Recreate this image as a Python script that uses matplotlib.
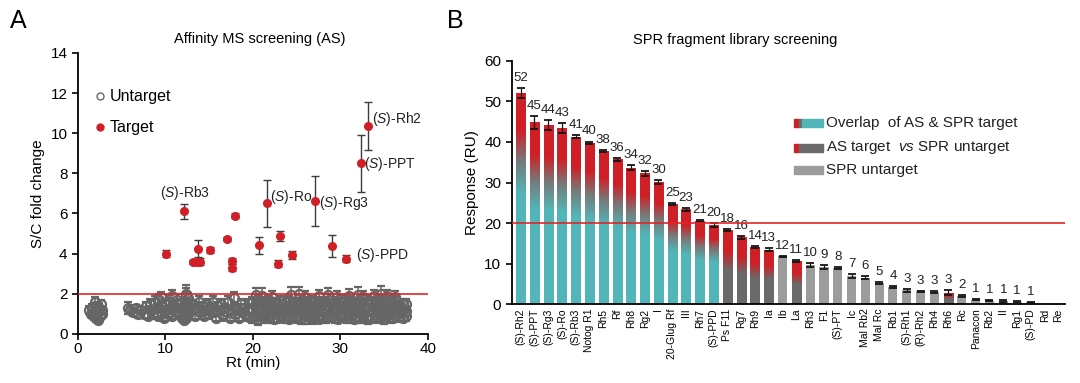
import matplotlib
matplotlib.use('Agg')
import matplotlib.pyplot as plt
import numpy as np
from matplotlib.colors import LinearSegmentedColormap
from matplotlib.patches import Rectangle
from matplotlib.lines import Line2D

plt.rcParams['font.family'] = ['Liberation Sans', 'DejaVu Sans']
plt.rcParams['mathtext.fontset'] = 'custom'
plt.rcParams['mathtext.rm'] = 'Liberation Sans'
plt.rcParams['mathtext.it'] = 'Liberation Sans:italic'

# ---- panel A: affinity MS screening ----
# untargeted compounds (sparse part, Rt < 19.5 min)
untarget_rt = [1.3, 1.5, 1.6, 1.8, 1.9, 2.0, 2.1, 2.2, 2.3, 2.4, 2.5, 2.6, 2.7, 2.8,
               5.7, 6.0, 6.3, 6.6, 6.9,
               7.2, 7.5, 7.8, 8.0, 8.2, 8.4, 8.6, 8.8, 9.0, 9.1, 9.3, 9.5, 9.6, 9.8,
               10.0, 10.2, 10.3, 10.5, 10.7, 10.8, 11.0, 11.2, 11.3, 11.5, 11.6, 11.8, 11.9,
               12.1, 12.1, 12.2, 12.2, 12.3, 12.4, 12.4, 12.5, 12.6, 12.6, 12.7,
               13.0, 13.2, 13.4, 13.6, 13.8, 14.0, 14.2, 14.4, 14.6, 14.8, 15.0, 15.2,
               15.4, 15.6, 15.8, 16.0, 16.2, 16.4, 16.6, 16.8, 17.0, 17.2, 17.4, 17.6,
               17.8, 18.0, 18.2, 18.4, 18.6, 18.8, 19.0, 19.2, 19.4]
untarget_fc = [1.2, 1.0, 1.3, 0.9, 1.4, 1.6, 0.8, 1.1, 0.7, 1.3, 0.9, 1.5, 1.0, 1.2,
               1.3, 1.2, 1.1, 1.3, 1.0,
               1.2, 1.0, 1.4, 0.9, 1.5, 1.2, 1.0, 1.6, 1.3, 0.9, 1.7, 1.1, 1.4, 0.8,
               1.5, 1.2, 1.0, 1.6, 1.3, 0.9, 1.4, 1.1, 1.7, 1.0, 1.3, 1.5, 0.8,
               0.7, 1.0, 1.3, 1.6, 1.9, 0.8, 1.2, 1.5, 1.8, 1.0, 1.3,
               1.2, 1.5, 0.9, 1.3, 1.6, 1.1, 1.4, 0.9, 1.2, 1.5, 1.0, 1.3,
               1.6, 1.1, 0.8, 1.4, 1.2, 1.5, 0.9, 1.3, 1.1, 1.6, 0.8, 1.2,
               1.4, 1.0, 1.3, 0.8, 1.5, 1.1, 1.3, 0.9, 1.2]
untarget_err = [0.2, 0.15, 0.2, 0.2, 0.15, 0.25, 0.2, 0.2, 0.15, 0.25, 0.2, 0.2, 0.2, 0.15,
                0.3, 0.15, 0.2, 0.15, 0.2,
                0.15, 0.2, 0.2, 0.15, 0.25, 0.2, 0.15, 0.3, 0.2, 0.15, 0.3, 0.2, 0.2, 0.15,
                0.25, 0.2, 0.15, 0.35, 0.2, 0.15, 0.25, 0.2, 0.3, 0.15, 0.2, 0.25, 0.15,
                0.15, 0.2, 0.2, 0.2, 0.4, 0.15, 0.2, 0.2, 0.25, 0.2, 0.2,
                0.2, 0.2, 0.15, 0.2, 0.3, 0.2, 0.2, 0.15, 0.2, 0.25, 0.2, 0.2,
                0.3, 0.2, 0.15, 0.2, 0.2, 0.25, 0.15, 0.2, 0.2, 0.3, 0.15, 0.2,
                0.2, 0.2, 0.2, 0.15, 0.25, 0.2, 0.2, 0.15, 0.2]

# untargeted compounds, dense part (Rt 19.5 - 38 min), three layers per Rt
dense_rt = [19.6, 19.9, 20.3, 20.6, 21.0, 21.3, 21.7, 22.0, 22.4, 22.7,
            23.1, 23.4, 23.8, 24.1, 24.5, 24.8, 25.2, 25.5, 25.9, 26.2,
            26.6, 26.9, 27.3, 27.6, 28.0, 28.3, 28.7, 29.0, 29.4, 29.7,
            30.1, 30.4, 30.8, 31.1, 31.5, 31.8, 32.2, 32.5, 32.9, 33.2,
            33.6, 33.9, 34.3, 34.6, 35.0, 35.3, 35.7, 36.0, 36.4, 36.7,
            37.1, 37.5]
dense_fc_low = [0.85, 0.8, 0.9, 0.75, 0.85, 0.8, 0.9, 0.85, 0.75, 0.8,
                0.9, 0.8, 0.85, 0.75, 0.9, 0.8, 0.85, 0.8, 0.75, 0.9,
                0.85, 0.8, 0.9, 0.75, 0.85, 0.8, 0.9, 0.85, 0.8, 0.75,
                0.9, 0.85, 0.8, 0.9, 0.75, 0.85, 0.8, 0.9, 0.85, 0.75,
                0.8, 0.9, 0.85, 0.8, 0.75, 0.9, 0.85, 0.8, 0.9, 0.85,
                0.8, 0.9]
dense_fc_mid = [1.2, 1.25, 1.15, 1.3, 1.2, 1.1, 1.25, 1.2, 1.3, 1.15,
                1.2, 1.25, 1.1, 1.2, 1.3, 1.15, 1.25, 1.2, 1.1, 1.3,
                1.2, 1.15, 1.25, 1.3, 1.1, 1.2, 1.25, 1.15, 1.3, 1.2,
                1.1, 1.25, 1.2, 1.3, 1.15, 1.2, 1.25, 1.1, 1.3, 1.2,
                1.15, 1.25, 1.2, 1.3, 1.1, 1.2, 1.25, 1.15, 1.3, 1.2,
                1.2, 1.15]
dense_fc_high = [1.55, 1.6, 1.5, 1.65, 1.55, 1.6, 1.7, 1.5, 1.6, 1.55,
                 1.65, 1.5, 1.6, 1.7, 1.55, 1.6, 1.5, 1.65, 1.6, 1.55,
                 1.7, 1.6, 1.5, 1.65, 1.55, 1.6, 1.7, 1.55, 1.6, 1.5,
                 1.65, 1.6, 1.55, 1.7, 1.6, 1.5, 1.65, 1.55, 1.6, 1.7,
                 1.55, 1.6, 1.65, 1.5, 1.6, 1.7, 1.55, 1.6, 1.65, 1.5,
                 1.55, 1.5]
dense_err = [0.2, 0.25, 0.2, 0.3, 0.2, 0.25, 0.2, 0.3, 0.2, 0.25,
             0.25, 0.2, 0.3, 0.2, 0.25, 0.2, 0.2, 0.3, 0.25, 0.2,
             0.2, 0.3, 0.25, 0.2, 0.2, 0.25, 0.3, 0.2, 0.25, 0.2,
             0.3, 0.2, 0.25, 0.2, 0.2, 0.3, 0.25, 0.2, 0.2, 0.25,
             0.2, 0.25, 0.3, 0.2, 0.25, 0.2, 0.3, 0.2, 0.25, 0.2,
             0.2, 0.25]
# untargeted compounds sitting just under the cut-off line
edge_rt = [9.5, 10.8, 12.3, 17.8, 20.3, 21.0, 22.2, 24.3, 25.3, 26.0,
           27.5, 28.6, 29.6, 31.0, 32.0, 32.6, 33.8, 34.6, 35.3, 36.2]
edge_fc = [1.85, 1.9, 2.0, 1.8, 1.95, 1.9, 1.85, 1.95, 2.0, 1.85,
           1.9, 1.95, 1.85, 1.9, 1.95, 1.85, 1.9, 2.0, 1.9, 1.85]
edge_err = [0.25, 0.3, 0.45, 0.3, 0.35, 0.4, 0.3, 0.4, 0.35, 0.3,
            0.3, 0.35, 0.3, 0.35, 0.4, 0.3, 0.3, 0.4, 0.3, 0.3]

# targeted compounds
target_rt = [10.1, 12.15, 13.2, 13.55, 13.75, 13.95, 15.1, 17.0, 17.6, 17.6, 17.9,
             20.7, 21.6, 23.1, 22.9, 24.5, 27.1, 29.0, 30.6, 32.3, 33.2]
target_fc = [4.0, 6.1, 3.58, 3.58, 4.25, 3.6, 4.2, 4.73, 3.65, 3.3, 5.9,
             4.42, 6.5, 4.87, 3.5, 3.93, 6.62, 4.37, 3.75, 8.5, 10.35]
target_err = [0.18, 0.38, 0.1, 0.1, 0.43, 0.18, 0.15, 0.12, 0.15, 0.18, 0.1,
              0.43, 1.17, 0.25, 0.18, 0.2, 1.25, 0.55, 0.18, 1.42, 1.2]
target_names = ['(S)-Rb3', '(S)-Ro', '(S)-Rg3', '(S)-PPD', '(S)-PPT', '(S)-Rh2']
target_name_rt = [12.2, 22.0, 27.6, 31.8, 32.7, 33.6]
target_name_fc = [7.0, 6.8, 6.5, 3.95, 8.47, 10.72]

# ---- panel B: SPR fragment library screening ----
compounds = ['(S)-Rh2', '(S)-PPT', '(S)-Rg3', '(S)-Ro', '(S)-Rb3', 'Notog R1', 'Rh5', 'Rf',
             'Rh8', 'Rg2', 'I', '20-Glug Rf', 'III', 'Rh7', '(S)-PPD', 'Ps F11', 'Rg7',
             'Rh9', 'Ia', 'Ib', 'La', 'Rh3', 'F1', '(S)-PT', 'Ic', 'Mal Rb2', 'Mal Rc',
             'Rb1', '(S)-Rh1', '(R)-Rh2', 'Rh4', 'Rh6', 'Rc', 'Panacon', 'Rb2', 'II',
             'Rg1', '(S)-PD', 'Rd', 'Re']
response = [52.0, 44.8, 44.2, 43.5, 41.3, 39.8, 37.8, 35.7, 33.6, 32.3,
            30.2, 24.7, 23.4, 20.6, 19.6, 18.3, 16.5, 14.2, 13.5, 11.8,
            10.7, 9.6, 9.2, 8.9, 6.9, 6.6, 5.3, 4.3, 3.5, 3.2,
            3.1, 2.9, 2.0, 1.2, 0.9, 0.9, 0.6, 0.5, 0.0, 0.0]
response_err = [1.2, 1.5, 1.3, 1.2, 0.4, 0.3, 0.3, 0.3, 0.6, 0.6,
                0.5, 0.3, 0.3, 0.2, 0.5, 0.3, 0.3, 0.2, 0.3, 0.2,
                0.3, 0.5, 0.4, 0.2, 0.5, 0.3, 0.2, 0.3, 0.4, 0.2,
                0.3, 0.6, 0.2, 0.2, 0.1, 0.2, 0.2, 0.2, 0.0, 0.0]
response_text = ['52', '45', '44', '43', '41', '40', '38', '36', '34', '32',
                 '30', '25', '23', '21', '20', '18', '16', '14', '13', '12',
                 '11', '10', '9', '8', '7', '6', '5', '4', '3', '3',
                 '3', '3', '2', '1', '1', '1', '1', '1', '', '']
# 'both' = overlap of AS & SPR target, 'as' = AS target only, 'none' = SPR untarget
group = ['both'] * 15 + ['as', 'as', 'as', 'as', 'none', 'as'] + ['none'] * 10 + ['as'] + ['none'] * 8

teal = '#52b6b8'
red = '#d01f26'
dgray = '#6a6a6a'
lgray = '#9c9c9c'
cgray = '#666666'

fig = plt.figure(figsize=(10.8, 3.83), dpi=100)

# ===== panel A =====
axA = fig.add_axes([0.0722, 0.128, 0.324, 0.734])
cloud = dict(fmt='o', ms=6.5, mfc='none', mec=cgray, mew=1.6, ecolor=cgray,
             elinewidth=1.1, capsize=2.8, capthick=1.0, zorder=2)
axA.errorbar(untarget_rt, untarget_fc, yerr=untarget_err, **cloud)
axA.errorbar(edge_rt, edge_fc, yerr=edge_err, **cloud)
for row in (dense_fc_low, dense_fc_mid, dense_fc_high):
    axA.errorbar(dense_rt, row, yerr=dense_err, **cloud)
axA.axhline(2, color='#e02525', lw=1.2, zorder=3)
axA.errorbar(target_rt, target_fc, yerr=target_err, fmt='o', ms=5.5, mfc=red, mec=red,
             ecolor='#3c3c3c', elinewidth=1.0, capsize=3, capthick=1.0, zorder=4)
for name, xx, yy in zip(target_names, target_name_rt, target_name_fc):
    lab = r'($\it{S}$)' + name[3:]
    ha = 'center' if name == '(S)-Rb3' else 'left'
    axA.text(xx, yy, lab, ha=ha, va='center', fontsize=10, color='#222222')

axA.set_xlim(0, 40)
axA.set_ylim(0, 14)
axA.set_xticks(range(0, 41, 10))
axA.set_yticks(range(0, 15, 2))
axA.spines['top'].set_visible(False)
axA.spines['right'].set_visible(False)
for s in ('left', 'bottom'):
    axA.spines[s].set_linewidth(1.3)
axA.tick_params(direction='out', length=4, width=1.2, labelsize=11)
axA.tick_params(axis='x', pad=2)
axA.set_xlabel('Rt (min)', fontsize=11, labelpad=0)
axA.set_ylabel('S/C fold change', fontsize=11, labelpad=4)

hA = [Line2D([], [], ls='', marker='o', ms=5, mfc='white', mec=cgray, mew=1),
      Line2D([], [], ls='', marker='o', ms=5, mfc=red, mec=red)]
axA.legend(hA, ['Untarget', 'Target'], loc='upper left', bbox_to_anchor=(0.05, 0.87),
           frameon=False, fontsize=11.5, handlelength=0.6, handletextpad=0.3,
           labelspacing=1.0, borderpad=0, borderaxespad=0)

# ===== panel B =====
axB = fig.add_axes([0.4738, 0.2052, 0.5120, 0.6363])
x = np.arange(len(compounds))
w = 0.66
cmap_both = LinearSegmentedColormap.from_list(
    'both', [(0, teal), (0.52, teal), (0.68, '#787878'), (0.82, red), (1, red)])
cmap_as = LinearSegmentedColormap.from_list(
    'as', [(0, dgray), (0.45, dgray), (0.7, red), (1, red)])
grad = np.linspace(0, 1, 256).reshape(-1, 1)

colors = [lgray if g == 'none' else 'none' for g in group]
bars = axB.bar(x, response, width=w, color=colors, edgecolor='none', zorder=2)
for b, g in zip(bars, group):
    if g == 'none' or b.get_height() <= 0:
        continue
    cm = cmap_both if g == 'both' else cmap_as
    im = axB.imshow(grad, cmap=cm, origin='lower', aspect='auto', zorder=2,
                    extent=(b.get_x(), b.get_x() + b.get_width(), 0, b.get_height()))
    im.set_clip_path(b)

has = np.array(response) > 0
axB.errorbar(x[has], np.array(response)[has], yerr=np.array(response_err)[has], fmt='none',
             ecolor='#151515', elinewidth=0.9, capsize=3.2, capthick=1.3, zorder=3)
for xi, h, e, t in zip(x, response, response_err, response_text):
    if t:
        axB.text(xi, h + e + 1.0, t, ha='center', va='bottom', fontsize=9.5, color='#222222')

axB.axhline(20, color='#e02525', lw=1.2, zorder=4)
axB.set_xlim(-0.64, 39.45)
axB.set_ylim(0, 60)
axB.set_yticks(range(0, 61, 10))
axB.set_xticks(x)
axB.set_xticklabels(compounds, rotation=90, fontsize=7.5)
axB.tick_params(axis='x', length=0, pad=3)
axB.tick_params(axis='y', direction='out', length=4, width=1.2, labelsize=11)
axB.spines['top'].set_visible(False)
axB.spines['right'].set_visible(False)
for s in ('left', 'bottom'):
    axB.spines[s].set_linewidth(1.3)
axB.set_ylabel('Response (RU)', fontsize=11, labelpad=4)

# legend drawn as swatches in axes coordinates
sw_y = [0.744, 0.642, 0.552]
sw_h = 0.03
x0, x1, x2, x3 = 0.510, 0.519, 0.525, 0.563
tr = axB.transAxes
axB.add_patch(Rectangle((x0, sw_y[0] - sw_h / 2), x1 - x0, sw_h, color=red, transform=tr, clip_on=False))
axB.add_patch(Rectangle((x1, sw_y[0] - sw_h / 2), x2 - x1, sw_h, color=dgray, transform=tr, clip_on=False))
axB.add_patch(Rectangle((x2, sw_y[0] - sw_h / 2), x3 - x2, sw_h, color=teal, transform=tr, clip_on=False))
axB.add_patch(Rectangle((x0, sw_y[1] - sw_h / 2), x1 - x0, sw_h, color=red, transform=tr, clip_on=False))
axB.add_patch(Rectangle((x1, sw_y[1] - sw_h / 2), x3 - x1, sw_h, color=dgray, transform=tr, clip_on=False))
axB.add_patch(Rectangle((x0, sw_y[2] - sw_h / 2), x3 - x0, sw_h, color=lgray, transform=tr, clip_on=False))
leg_text = ['Overlap  of AS & SPR target', r'AS target  $\it{vs}$ SPR untarget', 'SPR untarget']
for yy, t in zip(sw_y, leg_text):
    axB.text(0.569, yy, t, transform=tr, ha='left', va='center', fontsize=11, color='#222222')

# titles and panel letters
fig.text(260 / 1080, 1 - 39 / 383, 'Affinity MS screening (AS)', ha='center', va='center', fontsize=10.5)
fig.text(735 / 1080, 1 - 40 / 383, 'SPR fragment library screening', ha='center', va='center', fontsize=10.5)
fig.text(18 / 1080, 1 - 21 / 383, 'A', ha='center', va='center', fontsize=18)
fig.text(455 / 1080, 1 - 21 / 383, 'B', ha='center', va='center', fontsize=18)

fig.savefig('out.png', dpi=100)
